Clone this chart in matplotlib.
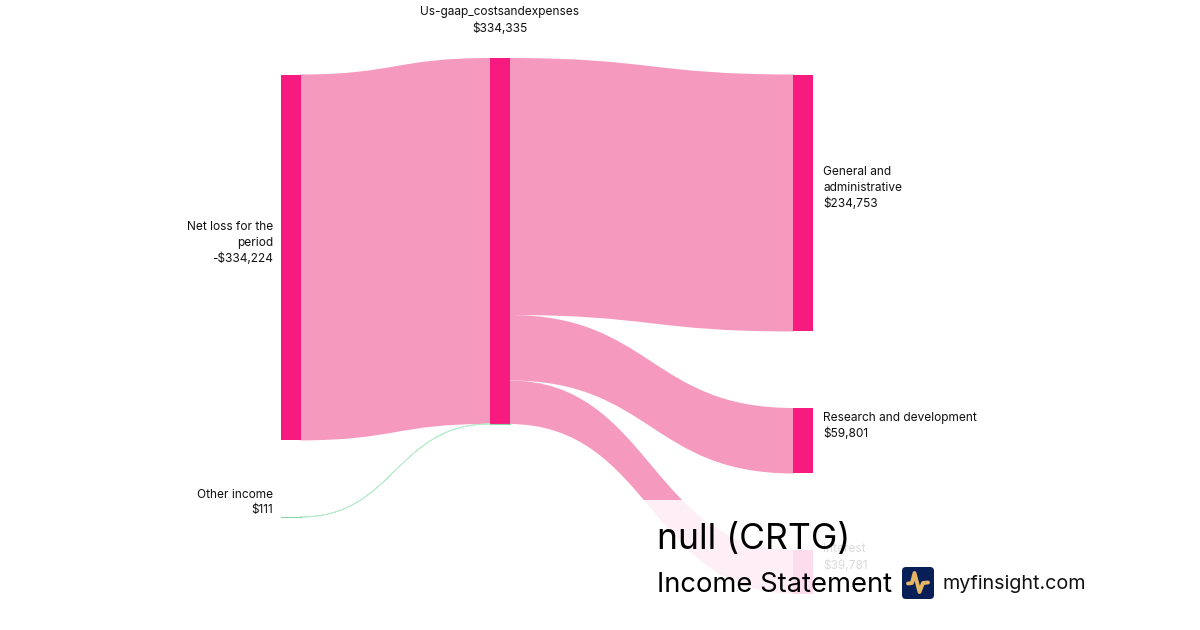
import matplotlib
matplotlib.use('Agg')
import matplotlib.pyplot as plt
from matplotlib.patches import PathPatch, Rectangle, FancyBboxPatch
from matplotlib.path import Path

plt.rcParams['font.family'] = ['Inter', 'DejaVu Sans']

# valores
left_names = ['Net loss for the\nperiod', 'Other income']
left_values = [334224, 111]
left_labels = ['-$334,224', '$111']
middle_name = 'Us-gaap_costsandexpenses'
middle_value = 334335
middle_label = '$334,335'
right_names = ['General and\nadministrative', 'Research and development', 'Interest']
right_values = [234753, 59801, 39781]
right_labels = ['$234,753', '$59,801', '$39,781']

# layout em pixels
scale = 366 / middle_value
node_w = 20.5
x_left, x_mid, x_right = 280.5, 489.5, 792.5
left_tops = [74.5, 517]
mid_top = 58
right_tops = [74.5, 408, 550]

node_color = '#F71B7F'
link_color = '#F59ABE'
green_link = '#B5EBCA'

fig = plt.figure(figsize=(12, 6.3), dpi=100)
ax = fig.add_axes([0, 0, 1, 1])
ax.set_xlim(0, 1200)
ax.set_ylim(630, 0)
ax.axis('off')


def draw_link(x0, x1, y0, y1, h, color):
    xm = (x0 + x1) / 2
    verts = [(x0, y0), (xm, y0), (xm, y1), (x1, y1),
             (x1, y1 + h), (xm, y1 + h), (xm, y0 + h), (x0, y0 + h), (x0, y0)]
    codes = [Path.MOVETO, Path.CURVE4, Path.CURVE4, Path.CURVE4,
             Path.LINETO, Path.CURVE4, Path.CURVE4, Path.CURVE4, Path.CLOSEPOLY]
    ax.add_patch(PathPatch(Path(verts, codes), fc=color, ec=color, lw=0.6 if h < 1 else 0, zorder=1))


def draw_node(x, y, h, color=node_color):
    ax.add_patch(Rectangle((x, y), node_w, h, fc=color, ec='none', zorder=2))


# entradas (o link entra 1px por baixo do no para nao sobrar fio branco)
y_in = mid_top
for i in range(len(left_values)):
    h = left_values[i] * scale
    cor = link_color if i == 0 else green_link
    draw_link(x_left + node_w - 1, x_mid + 1, left_tops[i], y_in, h, cor)
    draw_node(x_left, left_tops[i], h, node_color if i == 0 else '#8CD5A8')
    y_in += h
draw_node(x_mid, mid_top, middle_value * scale)
ax.plot([x_mid, x_mid + node_w], [y_in, y_in], color='#8CD5A8', lw=0.8, zorder=3)
ax.plot([x_left, x_left + node_w], [left_tops[1], left_tops[1]], color='#8CD5A8', lw=0.8, zorder=3)

# saidas
y_out = mid_top
for i in range(len(right_values)):
    h = right_values[i] * scale
    draw_link(x_mid + node_w - 1, x_right + 1, y_out, right_tops[i], h, link_color)
    draw_node(x_right, right_tops[i], h)
    y_out += h

# textos
font = dict(fontsize=8.55, color='#111111', zorder=4, linespacing=1.43)
ax.text(x_left - 7.5, 243, left_names[0] + '\n' + left_labels[0], ha='right', va='center', **font)
ax.text(x_left - 7.5, 502.5, left_names[1] + '\n' + left_labels[1], ha='right', va='center', **font)
ax.text(x_mid + 10, 20.5, middle_name + '\n' + middle_label, ha='center', va='center', **font)
ax.text(x_right + 30.5, 188, right_names[0] + '\n' + right_labels[0], ha='left', va='center', **font)
ax.text(x_right + 30.5, 426, right_names[1] + '\n' + right_labels[1], ha='left', va='center', **font)
ax.text(x_right + 30.5, 557.5, right_names[2] + '\n' + right_labels[2], ha='left', va='center', **font)

# faixa branca translucida do rodape
ax.add_patch(Rectangle((600, 500), 500, 130, fc='white', ec='none', alpha=0.85, zorder=5))

ax.text(657, 540, 'null (CRTG)', fontsize=25.5, color='black', ha='left', va='center', zorder=6)
ax.text(657, 585, 'Income Statement', fontsize=19.7, color='black', ha='left', va='center', zorder=6)
ax.text(942, 584, 'myfinsight.com', fontsize=14.2, color='#111111', ha='left', va='center', zorder=6)

# logo
ax.add_patch(FancyBboxPatch((905, 570), 26, 26, boxstyle='round,pad=3,rounding_size=4',
                            fc='#071E57', ec='none', zorder=6))
ax.plot([908, 912, 914.5, 919.5, 923, 928], [583.5, 583, 573, 592, 583, 582.5], color='#E6B563', lw=2.8,
        solid_capstyle='round', solid_joinstyle='round', zorder=7)

fig.savefig('out.png', dpi=100, facecolor='white')
